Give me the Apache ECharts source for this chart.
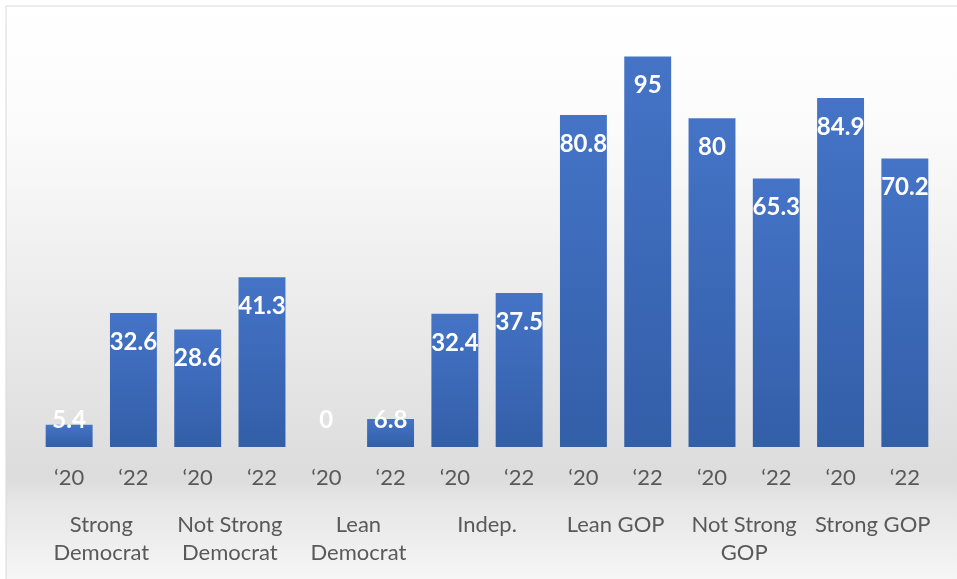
<!DOCTYPE html>
<html>
<head>
<meta charset="utf-8">
<script src="https://cdn.jsdelivr.net/npm/echarts@6/dist/echarts.min.js"></script>
<style>html,body{margin:0;padding:0;background:#fff}#c{width:957px;height:579px}</style>
</head>
<body>
<div id="c"></div>
<script>
const yearLabels = ['‘20','‘22','‘20','‘22','‘20','‘22','‘20','‘22','‘20','‘22','‘20','‘22','‘20','‘22'];
const groupLabels = ['Strong\nDemocrat','Not Strong\nDemocrat','Lean\nDemocrat','Indep.','Lean GOP','Not Strong\nGOP','Strong GOP'];
const values = [5.4, 32.6, 28.6, 41.3, 0, 6.8, 32.4, 37.5, 80.8, 95, 80, 65.3, 84.9, 70.2];

const chart = echarts.init(document.getElementById('c'), null, {renderer:'canvas'});
const font = 'Lato, "Open Sans", sans-serif';
const barColor = new echarts.graphic.LinearGradient(0,0,0,1,[
  {offset:0,color:'#4574c7'},{offset:1,color:'#335ea8'}
]);
const data = values.map(v => ({
  value: v,
  label: v < 14 ? {position:'insideBottom', distance:15} : {position:'insideTop', distance:17}
}));

chart.setOption({
  backgroundColor: '#fff',
  graphic: [
    {type:'rect', z:-10, silent:true, shape:{x:6,y:6,width:1000,height:620},
     style:{fill:new echarts.graphic.LinearGradient(0,0,0,1,[
       {offset:0,color:'#ffffff'},{offset:0.2,color:'#fbfbfb'},{offset:0.76,color:'#dcdcdc'},{offset:0.80,color:'#e6e6e6'},{offset:1,color:'#ffffff'}
     ]), stroke:'#d9d9d9', lineWidth:1}}
  ],
  grid: {left:37, right:20, top:36, bottom:132, containLabel:false},
  xAxis: [
    {type:'category', data: yearLabels, position:'bottom',
     axisLine:{show:false}, axisTick:{show:false},
     axisLabel:{color:'#595959', fontSize:22, fontFamily:font, margin:20, interval:0}},
    {type:'category', data: groupLabels, position:'bottom', offset:64,
     axisLine:{show:false}, axisTick:{show:false},
     axisLabel:{color:'#595959', fontSize:22, fontFamily:font, margin:0, interval:0, lineHeight:28, verticalAlign:'top'}}
  ],
  yAxis: {type:'value', min:0, max:100, show:false, splitLine:{show:false}},
  series: [{
    type:'bar', xAxisIndex:0, data: data, barCategoryGap:'27%',
    itemStyle:{color:barColor},
    label:{show:true, color:'#ffffff', fontSize:24, fontWeight:'bold', fontFamily:font},
    animation:false
  }]
});
</script>
</body>
</html>
